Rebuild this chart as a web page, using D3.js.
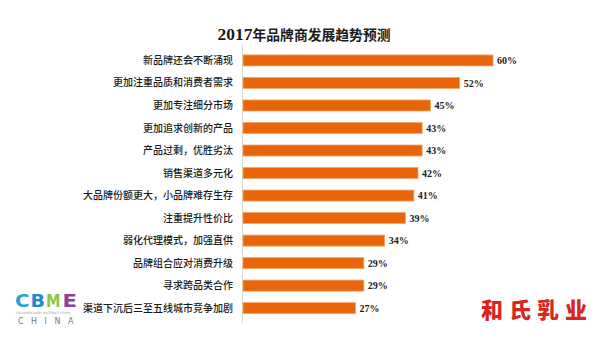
<!DOCTYPE html>
<html><head><meta charset="utf-8">
<script src="https://cdn.jsdelivr.net/npm/d3@7"></script>
<style>html,body{margin:0;padding:0;background:#fff;}svg{display:block;}</style>
</head><body>
<svg id="c" width="600" height="340"></svg>
<script>
const title = "2017年品牌商发展趋势预测";
const categories = ["新品牌还会不断涌现","更加注重品质和消费者需求","更加专注细分市场","更加追求创新的产品","产品过剩，优胜劣汰","销售渠道多元化","大品牌份额更大，小品牌难存生存","注重提升性价比","弱化代理模式，加强直供","品牌组合应对消费升级","寻求跨品类合作","渠道下沉后三至五线城市竞争加剧"];
const values = [60,52,45,43,43,42,41,39,34,29,29,27];

const svg = d3.select("#c");
const x = d3.scaleLinear().domain([0,60]).range([243,493]);
const y = d3.scaleBand().domain(categories).range([49.3,319.3]).paddingInner(0.51).paddingOuter(0.25);

// title
const t = svg.append("text").attr("x",304).attr("y",40).attr("text-anchor","middle").attr("fill","#1a1a1a");
t.append("tspan").text(title.slice(0,4)).attr("font-family","Liberation Serif, serif").attr("font-weight","bold").attr("font-size",17.5);
t.append("tspan").text(title.slice(4)).attr("font-family","Noto Sans CJK SC, sans-serif").attr("font-weight","bold").attr("font-size",13.8);

// axis line
svg.append("line").attr("x1",242.5).attr("x2",242.5).attr("y1",45).attr("y2",323).attr("stroke","#d8d8d8").attr("stroke-width",1);

// bars
svg.selectAll("rect.bar").data(values).join("rect").attr("class","bar")
  .attr("x",x(0)).attr("y",(d,i)=>y(categories[i]))
  .attr("width",d=>x(d)-x(0)).attr("height",y.bandwidth())
  .attr("fill","#E8650A").attr("stroke","#F2A86A").attr("stroke-width",0.8);

// category labels
svg.selectAll("text.cat").data(categories).join("text").attr("class","cat")
  .attr("x",233).attr("y",d=>y(d)+y.bandwidth()/2).attr("dy","0.35em")
  .attr("text-anchor","end").attr("font-family","Noto Sans CJK SC, sans-serif")
  .attr("font-size",10).attr("font-weight",500).attr("fill","#1a1a1a").text(d=>d);

// value labels
svg.selectAll("text.val").data(values).join("text").attr("class","val")
  .attr("x",d=>x(d)+4).attr("y",(d,i)=>y(categories[i])+y.bandwidth()/2).attr("dy","0.38em")
  .attr("font-family","Liberation Serif, serif").attr("font-weight","bold")
  .attr("font-size",10).attr("fill","#222").text(d=>d+"%");

// CBME logo
const logo = svg.append("g").attr("font-family","DejaVu Sans, sans-serif").attr("font-weight","bold").attr("font-size",17);
const letters = [["C","#2A9FDB",15],["B","#1F8BCF",30.5],["M","#8DC63F",46],["E","#8E3F9E",62.5]];
logo.selectAll("text").data(letters).join("text").attr("x",d=>d[2]).attr("y",307).attr("fill",d=>d[1])
  .attr("textLength",14.5).attr("lengthAdjust","spacingAndGlyphs").text(d=>d[0]);
svg.append("text").attr("x",16).attr("y",313.5).attr("font-family","DejaVu Sans, sans-serif").attr("font-size",3.2).attr("fill","#999").text("CHILDREN BABY MATERNITY EXPO");
svg.append("text").attr("x",18).attr("y",324).attr("font-family","DejaVu Sans, sans-serif").attr("font-size",8).attr("letter-spacing",7.5).attr("fill","#777").text("CHINA");

// watermark
svg.append("text").attr("x",537).attr("y",318).attr("text-anchor","middle")
  .attr("font-family","Noto Sans CJK SC, sans-serif").attr("font-weight","900").attr("font-size",22)
  .attr("letter-spacing",6).attr("fill","#D8261E").text("和氏乳业");
</script>
</body></html>
